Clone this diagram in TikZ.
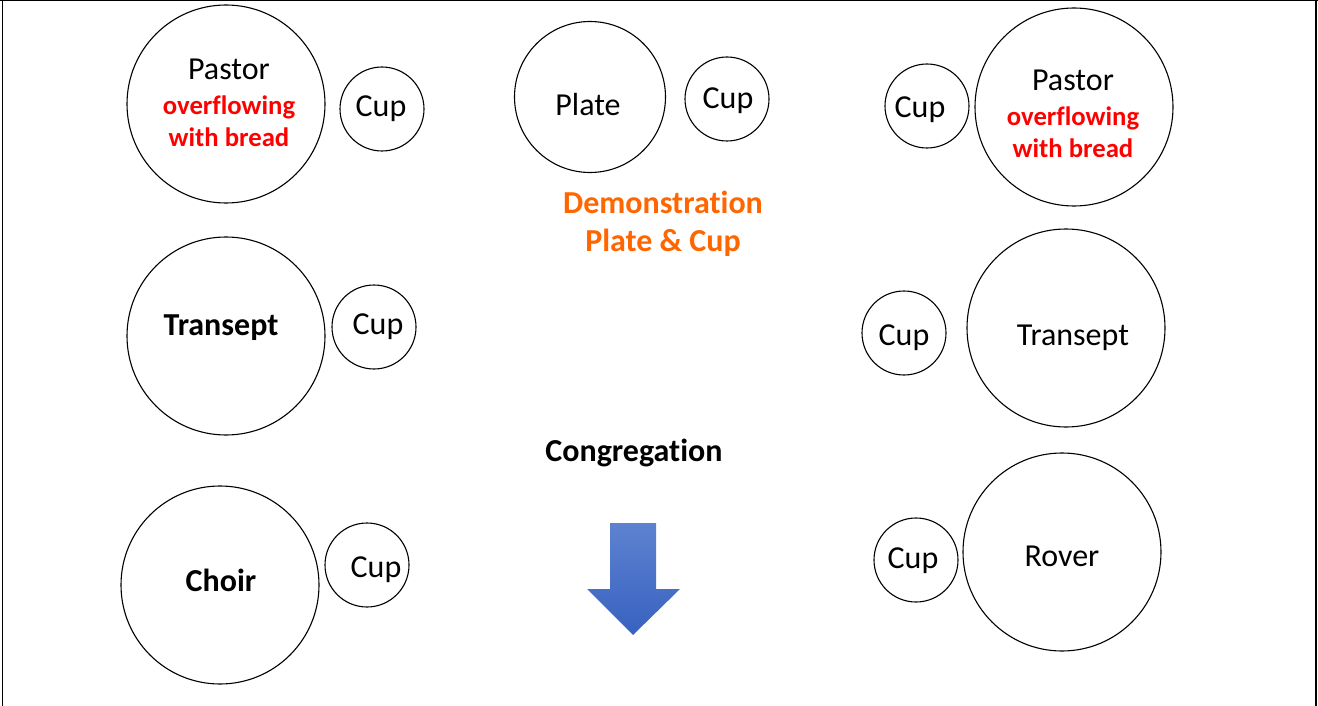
\documentclass[tikz,border=0pt]{standalone}
\usepackage{fontspec}
\setmainfont[Ligatures={NoCommon,NoRare,NoContextual}]{Carlito}
\definecolor{orng}{HTML}{FF6600}
\definecolor{redtxt}{HTML}{FF0000}
\definecolor{arrtop}{HTML}{5D82D0}
\definecolor{arrbot}{HTML}{3862C0}
\begin{document}
\begin{tikzpicture}[x=1pt,y=-1pt,
  bigc/.style={circle,draw,line width=1.1pt,minimum size=198pt,inner sep=0pt},
  cupc/.style={circle,draw,line width=1.1pt,minimum size=84pt,inner sep=0pt},
  platec/.style={circle,draw,line width=1.1pt,minimum size=151pt,inner sep=0pt},
  lbl/.style={font=\fontsize{32}{38}\selectfont,inner sep=0pt},
  blbl/.style={font=\fontsize{32}{38}\selectfont\bfseries,inner sep=0pt},
  redl/.style={font=\fontsize{26.7}{32}\selectfont\bfseries,text=redtxt,align=center,inner sep=0pt},
  orl/.style={font=\fontsize{32}{38}\selectfont\bfseries,text=orng,align=center,inner sep=0pt}]
\useasboundingbox (0,0) rectangle (1318,706);
% frame
\draw[line width=1pt] (0,1) -- (1318,1);
\draw[line width=2pt] (58,0.5) -- (1198,0.5);
\draw[line width=1.3pt] (2.5,0) -- (2.5,706);
\draw[line width=2pt] (1315.5,0) -- (1315.5,706);
% circles
\node[bigc] (pastorL) at (226,104) {};
\node[cupc] (cup1) at (382,109) {};
\node[platec] (plate) at (590,97) {};
\node[cupc] (cup2) at (727,99) {};
\node[cupc] (cup3) at (927,106) {};
\node[bigc] (pastorR) at (1074,107) {};
\node[bigc] (transL) at (226,336) {};
\node[cupc] (cup4) at (374,327) {};
\node[cupc] (cup5) at (904,333) {};
\node[bigc] (transR) at (1066,328) {};
\node[bigc] (choir) at (220,585) {};
\node[cupc] (cup6) at (367,565) {};
\node[cupc] (cup7) at (916,560) {};
\node[bigc] (rover) at (1062,552) {};
% texts
\node[lbl] (tPastorL) at (229,69) {Pastor};
\node[redl] (tOverL) at (229,121) {overflowing\\with bread};
\node[lbl] (tCup1) at (381,109) {Cup};
\node[lbl] (tPlate) at (588,105) {Plate};
\node[lbl] (tCup2) at (728,101) {Cup};
\node[lbl] (tCup3) at (920,110) {Cup};
\node[lbl] (tPastorR) at (1073,80) {Pastor};
\node[redl] (tOverR) at (1073,132) {overflowing\\with bread};
\node[orl] (tDemo) at (663,224) {Demonstration\\Plate \& Cup};
\node[blbl] (tTransL) at (221,328) {Transept};
\node[lbl] (tCup4) at (378,327) {Cup};
\node[lbl] (tCup5) at (904,338) {Cup};
\node[lbl] (tTransR) at (1073,338) {Transept};
\node[blbl] (tCong) at (634,453) {Congregation};
\node[blbl] (tChoir) at (221,580) {Choir};
\node[lbl] (tCup6) at (376,570) {Cup};
\node[lbl] (tCup7) at (913,561) {Cup};
\node[lbl] (tRover) at (1062,556) {Rover};
% arrow
\shade[top color=arrtop,bottom color=arrbot] (610,523) -- (656,523) -- (656,589) -- (680,589) -- (633,635) -- (587,589) -- (610,589) -- cycle;
\end{tikzpicture}
\end{document}
